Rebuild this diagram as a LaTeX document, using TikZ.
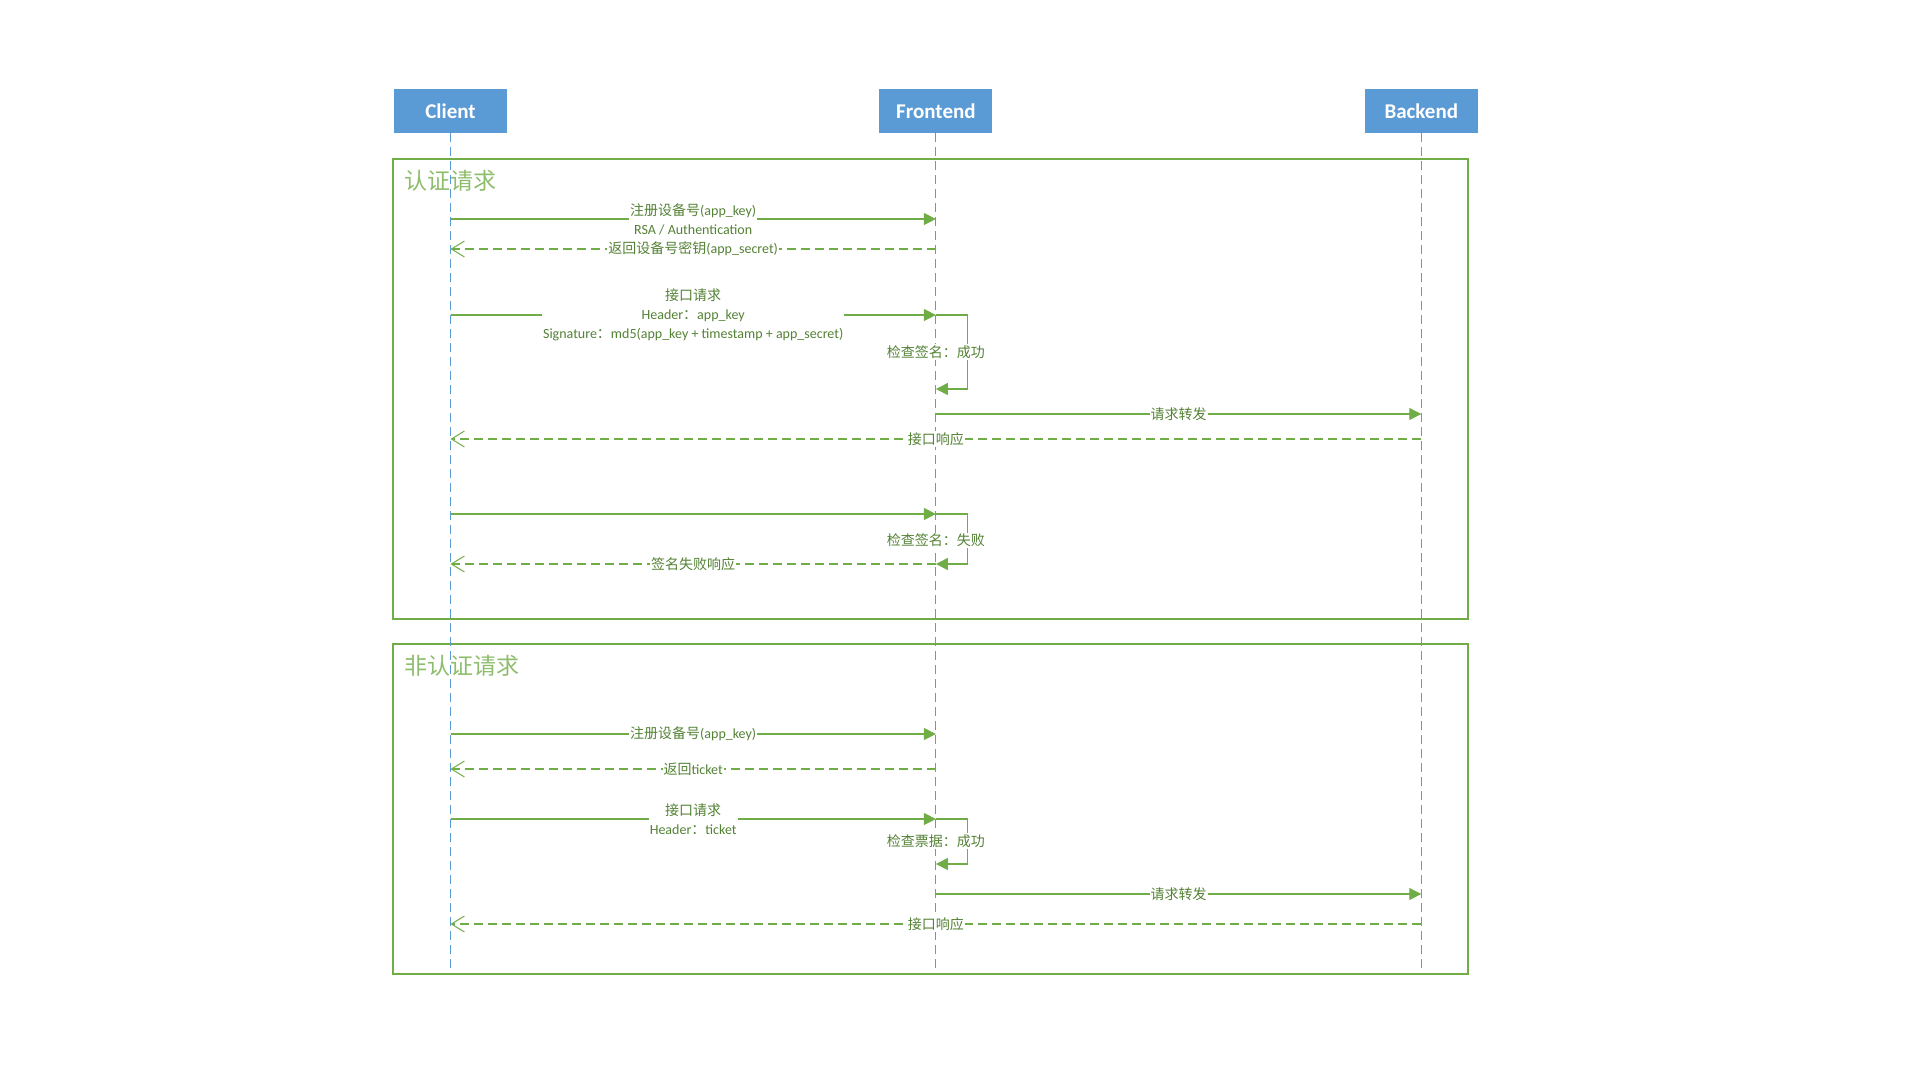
\documentclass[tikz,border=0pt]{standalone}
\usepackage{fontspec}
\setmainfont{Carlito}
\newfontfamily\zhfont{Noto Sans CJK SC}
\usetikzlibrary{arrows.meta, positioning}
\definecolor{HeadBlue}{HTML}{5B9BD5}
\definecolor{LineGreen}{HTML}{70AD47}
\definecolor{TextGreen}{HTML}{548235}
\newcommand{\msgdetail}{\fontsize{14pt}{17.5pt}\selectfont}

\begin{document}
\begin{tikzpicture}[
        x=1pt, y=-1pt,
        % 参与者
        actor/.style={
                rectangle,
                fill=HeadBlue,
                minimum width=113pt,
                minimum height=44pt,
                text=white,
                font=\fontsize{21pt}{24pt}\selectfont\bfseries
            },
        % 生命线
        lifeline/.style={
                draw=HeadBlue,
                line width=1pt,
                dash pattern=on 9pt off 5pt
            },
        % 分组框
        groupbox/.style={
                draw=LineGreen,
                line width=1.2pt
            },
        grouptitle/.style={
                anchor=west,
                inner sep=0pt,
                text=LineGreen!80,
                font=\fontsize{23pt}{26pt}\selectfont\zhfont
            },
        % 消息
        call/.style={
                draw=LineGreen,
                line width=1.1pt,
                -{Triangle[length=12pt, width=12pt]}
            },
        reply/.style={
                draw=LineGreen,
                line width=1.1pt,
                dash pattern=on 9pt off 5pt,
                -{Straight Barb[length=13pt, width=16pt, line width=1pt]}
            },
        msglabel/.style={
                fill=white,
                inner sep=1pt,
                text=TextGreen,
                align=center,
                font=\fontsize{14pt}{19pt}\selectfont
            }
    ]

    \useasboundingbox (0,0) rectangle (1920,1080);

    % 参与者
    \node[actor] (client) at (450.5,111) {Client};
    \node[actor, right=372pt of client] (frontend) {Frontend};
    \node[actor, right=372pt of frontend] (backend) {Backend};

    % 分组
    \draw[groupbox] (393,159) rectangle (1468,619);
    \draw[groupbox] (393,644) rectangle (1468,974);
    \node[grouptitle] (auth) at (404,181) {认证请求};
    \node[grouptitle] (noauth) at (404,666) {非认证请求};

    % 生命线
    \draw[lifeline] (client.south) -- (client |- 0,970);
    \draw[lifeline] (frontend.south) -- (frontend |- 0,970);
    \draw[lifeline] (backend.south) -- (backend |- 0,970);

    % 认证请求
    \coordinate (a1c) at (client |- 0,219);
    \coordinate (a1f) at (frontend |- 0,219);
    \draw[call] (a1c) -- node[msglabel] (a1l) {{\zhfont 注册设备号}(app\_key)\\{\msgdetail RSA / Authentication}} (a1f);

    \coordinate (a2c) at (client |- 0,249);
    \coordinate (a2f) at (frontend |- 0,249);
    \draw[reply] (a2f) -- node[msglabel] (a2l) {{\zhfont 返回设备号密钥}(app\_secret)} (a2c);

    \coordinate (a3c) at (client |- 0,315);
    \coordinate (a3f) at (frontend |- 0,315);
    \coordinate (a3r) at (frontend |- 0,389);
    \draw[call] (a3c) -- node[msglabel] (a3l) {{\zhfont 接口请求}\\{\msgdetail Header{\zhfont ：}app\_key}\\{\msgdetail Signature{\zhfont ：}md5(app\_key + timestamp + app\_secret)}} (a3f);
    \draw[call] (a3f) -- ++(32,0) |- (a3r);
    \node[msglabel] (a3chk) at (frontend |- 0,352) {\zhfont 检查签名：成功};

    \coordinate (a4f) at (frontend |- 0,414);
    \coordinate (a4b) at (backend |- 0,414);
    \draw[call] (a4f) -- node[msglabel] (a4l) {\zhfont 请求转发} (a4b);

    \coordinate (a5b) at (backend |- 0,439);
    \coordinate (a5c) at (client |- 0,439);
    \draw[reply] (a5b) -- node[msglabel] (a5l) {\zhfont 接口响应} (a5c);

    \coordinate (a6c) at (client |- 0,514);
    \coordinate (a6f) at (frontend |- 0,514);
    \coordinate (a6r) at (frontend |- 0,564);
    \coordinate (a6e) at (client |- 0,564);
    \draw[call] (a6c) -- (a6f);
    \draw[call] (a6f) -- ++(32,0) |- (a6r);
    \node[msglabel] (a6chk) at (frontend |- 0,540) {\zhfont 检查签名：失败};
    \draw[reply] (a6r) -- node[msglabel] (a6l) {\zhfont 签名失败响应} (a6e);

    % 非认证请求
    \coordinate (b1c) at (client |- 0,734);
    \coordinate (b1f) at (frontend |- 0,734);
    \draw[call] (b1c) -- node[msglabel] (b1l) {{\zhfont 注册设备号}(app\_key)} (b1f);

    \coordinate (b2f) at (frontend |- 0,769);
    \coordinate (b2c) at (client |- 0,769);
    \draw[reply] (b2f) -- node[msglabel] (b2l) {{\zhfont 返回}ticket} (b2c);

    \coordinate (b3c) at (client |- 0,819);
    \coordinate (b3f) at (frontend |- 0,819);
    \coordinate (b3r) at (frontend |- 0,864);
    \draw[call] (b3c) -- node[msglabel] (b3l) {{\zhfont 接口请求}\\{\msgdetail Header{\zhfont ：}ticket}} (b3f);
    \draw[call] (b3f) -- ++(32,0) |- (b3r);
    \node[msglabel] (b3chk) at (frontend |- 0,841) {\zhfont 检查票据：成功};

    \coordinate (b4f) at (frontend |- 0,894);
    \coordinate (b4b) at (backend |- 0,894);
    \draw[call] (b4f) -- node[msglabel] (b4l) {\zhfont 请求转发} (b4b);

    \coordinate (b5b) at (backend |- 0,924);
    \coordinate (b5c) at (client |- 0,924);
    \draw[reply] (b5b) -- node[msglabel] (b5l) {\zhfont 接口响应} (b5c);

\end{tikzpicture}
\end{document}
